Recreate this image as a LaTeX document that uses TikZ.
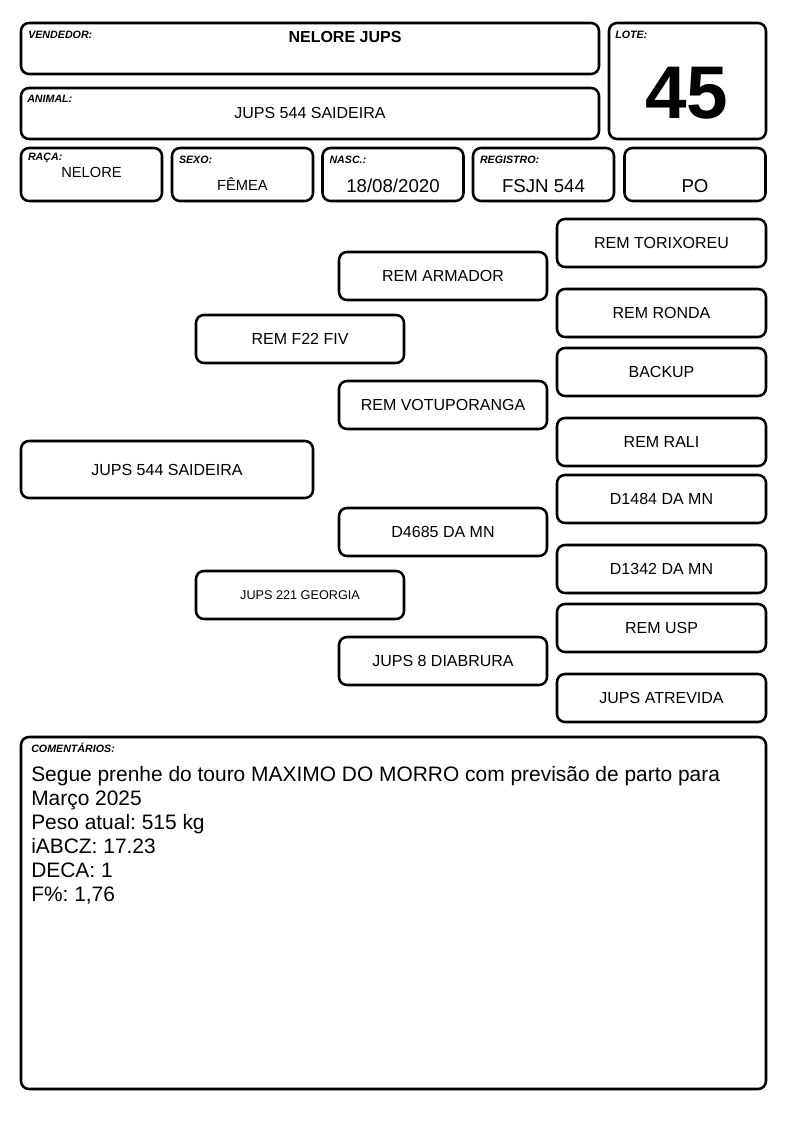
\documentclass[tikz,border=0pt]{standalone}
\usepackage{fontspec}
\setmainfont{Liberation Sans}
\frenchspacing

\begin{document}
\begin{tikzpicture}[x=0.75pt, y=-0.75pt,
    field/.style={draw, rounded corners=6pt, line width=1.9pt, inner sep=0pt},
    tag/.style={anchor=west, inner sep=0pt, font=\fontsize{8}{9}\selectfont\bfseries\itshape},
    entry/.style={inner sep=0pt, font=\fontsize{#1}{#1}\selectfont},
    entry/.default=12,
    ped/.style={field, minimum width=156pt, minimum height=36pt}]
    \useasboundingbox[fill=white] (0,0) rectangle (794,1123);
    % Header
    \node[field, minimum width=433.5pt, minimum height=38.25pt] (Seller) at (310,48.5) {};
    \node[tag] (Seller-tag) at (28,35) {VENDEDOR:};
    \node[entry, font=\fontsize{12}{14}\selectfont\bfseries] (Seller-name) at (345,37) {NELORE JUPS};
    \node[field, minimum width=433.5pt, minimum height=38.25pt] (Animal) at (310,113.5) {};
    \node[tag] (Animal-tag) at (27,99) {ANIMAL:};
    \node[entry] (Animal-name) at (310,113) {JUPS 544 SAIDEIRA};
    \node[field, minimum width=117.75pt, minimum height=87pt] (Lot) at (687.5,81) {};
    \node[tag] (Lot-tag) at (615,35) {LOTE:};
    \node[entry, font=\fontsize{56}{56}\selectfont\bfseries] (Lot-number) at (687,93) {45};
    % Info fields
    \foreach \tag/\val/\x/\ty/\vy/\fs/\i in {RAÇA:/NELORE/91.5/158/172/11/1,
        SEXO:/FÊMEA/242.5/160/184/11/2, NASC.:/18\slash 08\slash 2020/393/160/186/14/3,
        REGISTRO:/FSJN 544/543.5/160/186/14/4, /PO/695/160/186/14/5} {
        \node[field, minimum width=105.75pt, minimum height=39.75pt] (Info-\i) at (\x,174.5) {};
        \node[tag] (Info-tag-\i) at ([xshift=6]Info-\i.west |- 0,\ty) {\tag};
        \node[entry=\fs] (Info-val-\i) at (\x,\vy) {\val};
    }
    % Pedigree: animal
    \node[field, minimum width=219pt, minimum height=42.75pt, entry] (Gen1-1) at (167,469.5) {JUPS 544 SAIDEIRA};
    % Pedigree: parents
    \foreach \name/\y/\fs/\i in {REM F22 FIV/339/12/1, JUPS 221 GEORGIA/595/9.5/2} {
        \node[ped, entry=\fs] (Gen2-\i) at (300,\y) {\name};
    }
    % Pedigree: grandparents
    \foreach \name/\y/\i in {REM ARMADOR/276/1, REM VOTUPORANGA/405/2,
        D4685 DA MN/532/3, JUPS 8 DIABRURA/661/4} {
        \node[ped, entry] (Gen3-\i) at (443,\y) {\name};
    }
    % Pedigree: great-grandparents
    \foreach \name/\y/\i in {REM TORIXOREU/243/1, REM RONDA/313/2, BACKUP/372/3,
        REM RALI/442/4, D1484 DA MN/499/5, D1342 DA MN/569/6,
        REM USP/628/7, JUPS ATREVIDA/698/8} {
        \node[ped, minimum width=156.75pt, entry] (Gen4-\i) at (661.5,\y) {\name};
    }
    % Comments
    \node[field, minimum width=558.75pt, minimum height=264pt] (Notes) at (393.5,913) {};
    \node[tag] (Notes-tag) at (31,748) {COMENTÁRIOS:};
    \node[inner sep=0pt, anchor=north west, align=left, font=\fontsize{15.7}{18}\selectfont]
        (Notes-text) at (31,766) {Segue prenhe do touro MAXIMO DO MORRO com previsão de parto para\\
        Março 2025\\ Peso atual: 515 kg\\ iABCZ: 17.23\\ DECA: 1\\ F\%: 1,76};
\end{tikzpicture}
\end{document}
